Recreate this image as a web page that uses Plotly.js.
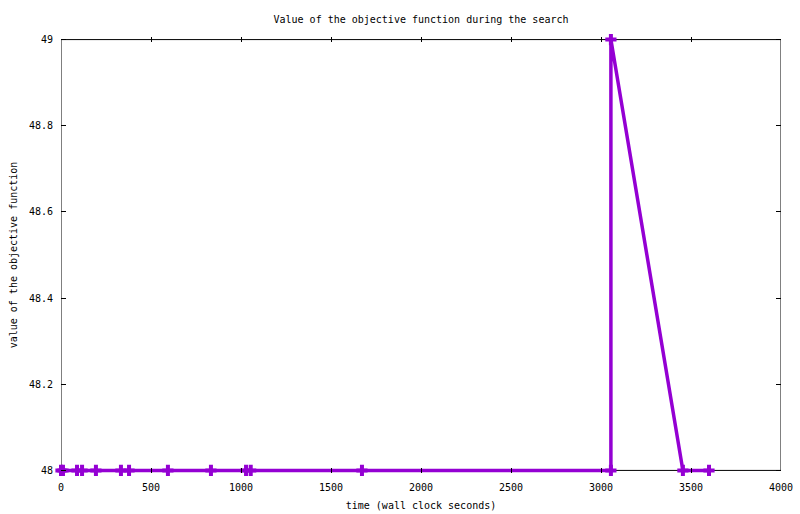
<!DOCTYPE html>
<html>
<head>
<meta charset="utf-8">
<script src="https://cdn.plot.ly/plotly-3.0.1.min.js"></script>
<style>
html, body { margin: 0; padding: 0; background: #fff; }
#graphDiv { width: 800px; height: 514px; }
</style>
</head>
<body>
<div id="graphDiv"></div>
<script>

// wall clock seconds and objective value at each point
var timeSec = [0, 11, 89, 117, 194, 333, 378, 594, 833, 1028, 1054, 1672, 3055, 3055, 3455, 3600];
var objValue = [48, 48, 48, 48, 48, 48, 48, 48, 48, 48, 48, 48, 48, 49, 48, 48];

var xTicks = [0, 500, 1000, 1500, 2000, 2500, 3000, 3500, 4000];
var yTicks = [48, 48.2, 48.4, 48.6, 48.8, 49];
var yTickText = ['48', '48.2', '48.4', '48.6', '48.8', '49'];

var purple = '#9400d3';
var fnt = 'DejaVu Sans Mono, monospace';

var trace1 = {
  x: timeSec,
  y: objValue,
  type: 'scatter',
  mode: 'lines+markers',
  line: { color: purple, width: 3.5 },
  marker: { symbol: 'cross-thin', size: 8, line: { color: purple, width: 4 } },
  cliponaxis: false,
  showlegend: false
};

var layout = {
  width: 800,
  height: 514,
  margin: { l: 61, r: 19, t: 37, b: 41 },
  paper_bgcolor: '#fff',
  plot_bgcolor: '#fff',
  font: { family: fnt, size: 10, color: '#000' },
  title: {
    text: 'Value of the objective function during the search',
    font: { family: fnt, size: 10, color: '#000' },
    x: 0.5, xref: 'paper', y: 0.963, yanchor: 'middle'
  },
  xaxis: {
    range: [0, 4000],
    tickvals: xTicks,
    ticktext: xTicks.map(String),
    ticks: 'inside', ticklen: 5, tickwidth: 1, tickcolor: '#000',
    mirror: 'ticks',
    ticklabelstandoff: 7,
    showline: false, showgrid: false, zeroline: false,
    tickfont: { family: fnt, size: 10, color: '#000' },
    title: { text: 'time (wall clock seconds)', font: { family: fnt, size: 10, color: '#000' }, standoff: 9 }
  },
  yaxis: {
    range: [47.994, 49.006],
    tickvals: yTicks,
    ticktext: yTickText,
    ticks: 'inside', ticklen: 5, tickwidth: 1, tickcolor: '#000',
    mirror: 'ticks',
    ticklabelstandoff: 7,
    showline: false, showgrid: false, zeroline: false,
    tickfont: { family: fnt, size: 10, color: '#000' },
    title: { text: 'value of the objective function', font: { family: fnt, size: 10, color: '#000' }, standoff: 9 }
  },
  shapes: [{
    type: 'rect', xref: 'x', yref: 'y',
    x0: 0, x1: 4000, y0: 48, y1: 49,
    line: { color: '#000', width: 1 },
    layer: 'below'
  }]
};

Plotly.newPlot('graphDiv', [trace1], layout, { staticPlot: true });

</script>
</body>
</html>
